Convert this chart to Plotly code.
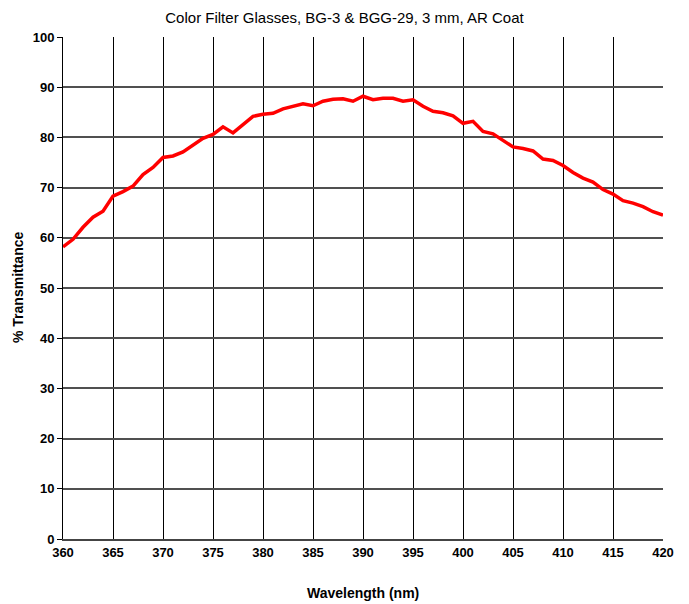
import plotly.graph_objects as go

wavelength = list(range(360, 421))
transmittance = [
    58.2, 59.7, 62.1, 64.1, 65.3, 68.3, 69.2, 70.3, 72.6, 74.0,
    76.0, 76.3, 77.1, 78.4, 79.8, 80.6, 82.1, 80.9, 82.6, 84.2,
    84.6, 84.8, 85.7, 86.2, 86.7, 86.3, 87.2, 87.6, 87.7, 87.2,
    88.2, 87.5, 87.8, 87.8, 87.2, 87.5, 86.2, 85.2, 84.9, 84.3,
    82.8, 83.2, 81.2, 80.7, 79.3, 78.1, 77.8, 77.3, 75.7, 75.4,
    74.4, 73.0, 71.9, 71.1, 69.6, 68.7, 67.4, 66.9, 66.2, 65.2,
    64.5,
]
x_ticks = list(range(360, 421, 5))
y_ticks = list(range(0, 101, 10))

FONT = "Liberation Sans, Arial, sans-serif"

fig = go.Figure()
fig.add_trace(go.Scatter(
    x=wavelength, y=transmittance, mode="lines",
    line=dict(color="#ff0000", width=3.5), showlegend=False,
))

fig.update_layout(
    width=689, height=604,
    margin=dict(l=63, r=26, t=37, b=65),
    paper_bgcolor="white", plot_bgcolor="white",
    title=dict(text="Color Filter Glasses, BG-3 & BGG-29, 3 mm, AR Coat",
               x=0.5, xanchor="center", y=0.971, yanchor="middle",
               font=dict(family=FONT, size=15, color="black")),
    font=dict(family=FONT, color="black"),
    annotations=[
        dict(text="<b>Wavelength (nm)</b>", xref="paper", yref="paper",
             x=0.5, y=-0.1076, xanchor="center", yanchor="middle",
             showarrow=False, font=dict(family=FONT, size=14, color="black")),
        dict(text="<b>% Transmittance</b>", xref="paper", yref="paper",
             x=-0.075, y=0.5, xanchor="center", yanchor="middle", textangle=-90,
             showarrow=False, font=dict(family=FONT, size=14, color="black")),
    ],
)
fig.update_xaxes(
    range=[360, 420], tickvals=x_ticks, ticktext=[str(v) for v in x_ticks],
    showgrid=True, gridcolor="black", gridwidth=1,
    showline=True, linecolor="#444444", linewidth=2, mirror=False,
    ticks="", ticklen=2, tickfont=dict(family=FONT, size=13, weight="bold"),
    zeroline=False, automargin=False,
)
fig.update_yaxes(
    range=[0, 100], tickvals=y_ticks, ticktext=[str(v) for v in y_ticks],
    showgrid=True, gridcolor="#505050", gridwidth=2,
    showline=True, linecolor="black", linewidth=1, mirror=False,
    ticks="outside", ticklen=5, tickcolor="black",
    tickfont=dict(family=FONT, size=13, weight="bold"),
    zeroline=False, automargin=False,
)
fig.write_html("out.html")
